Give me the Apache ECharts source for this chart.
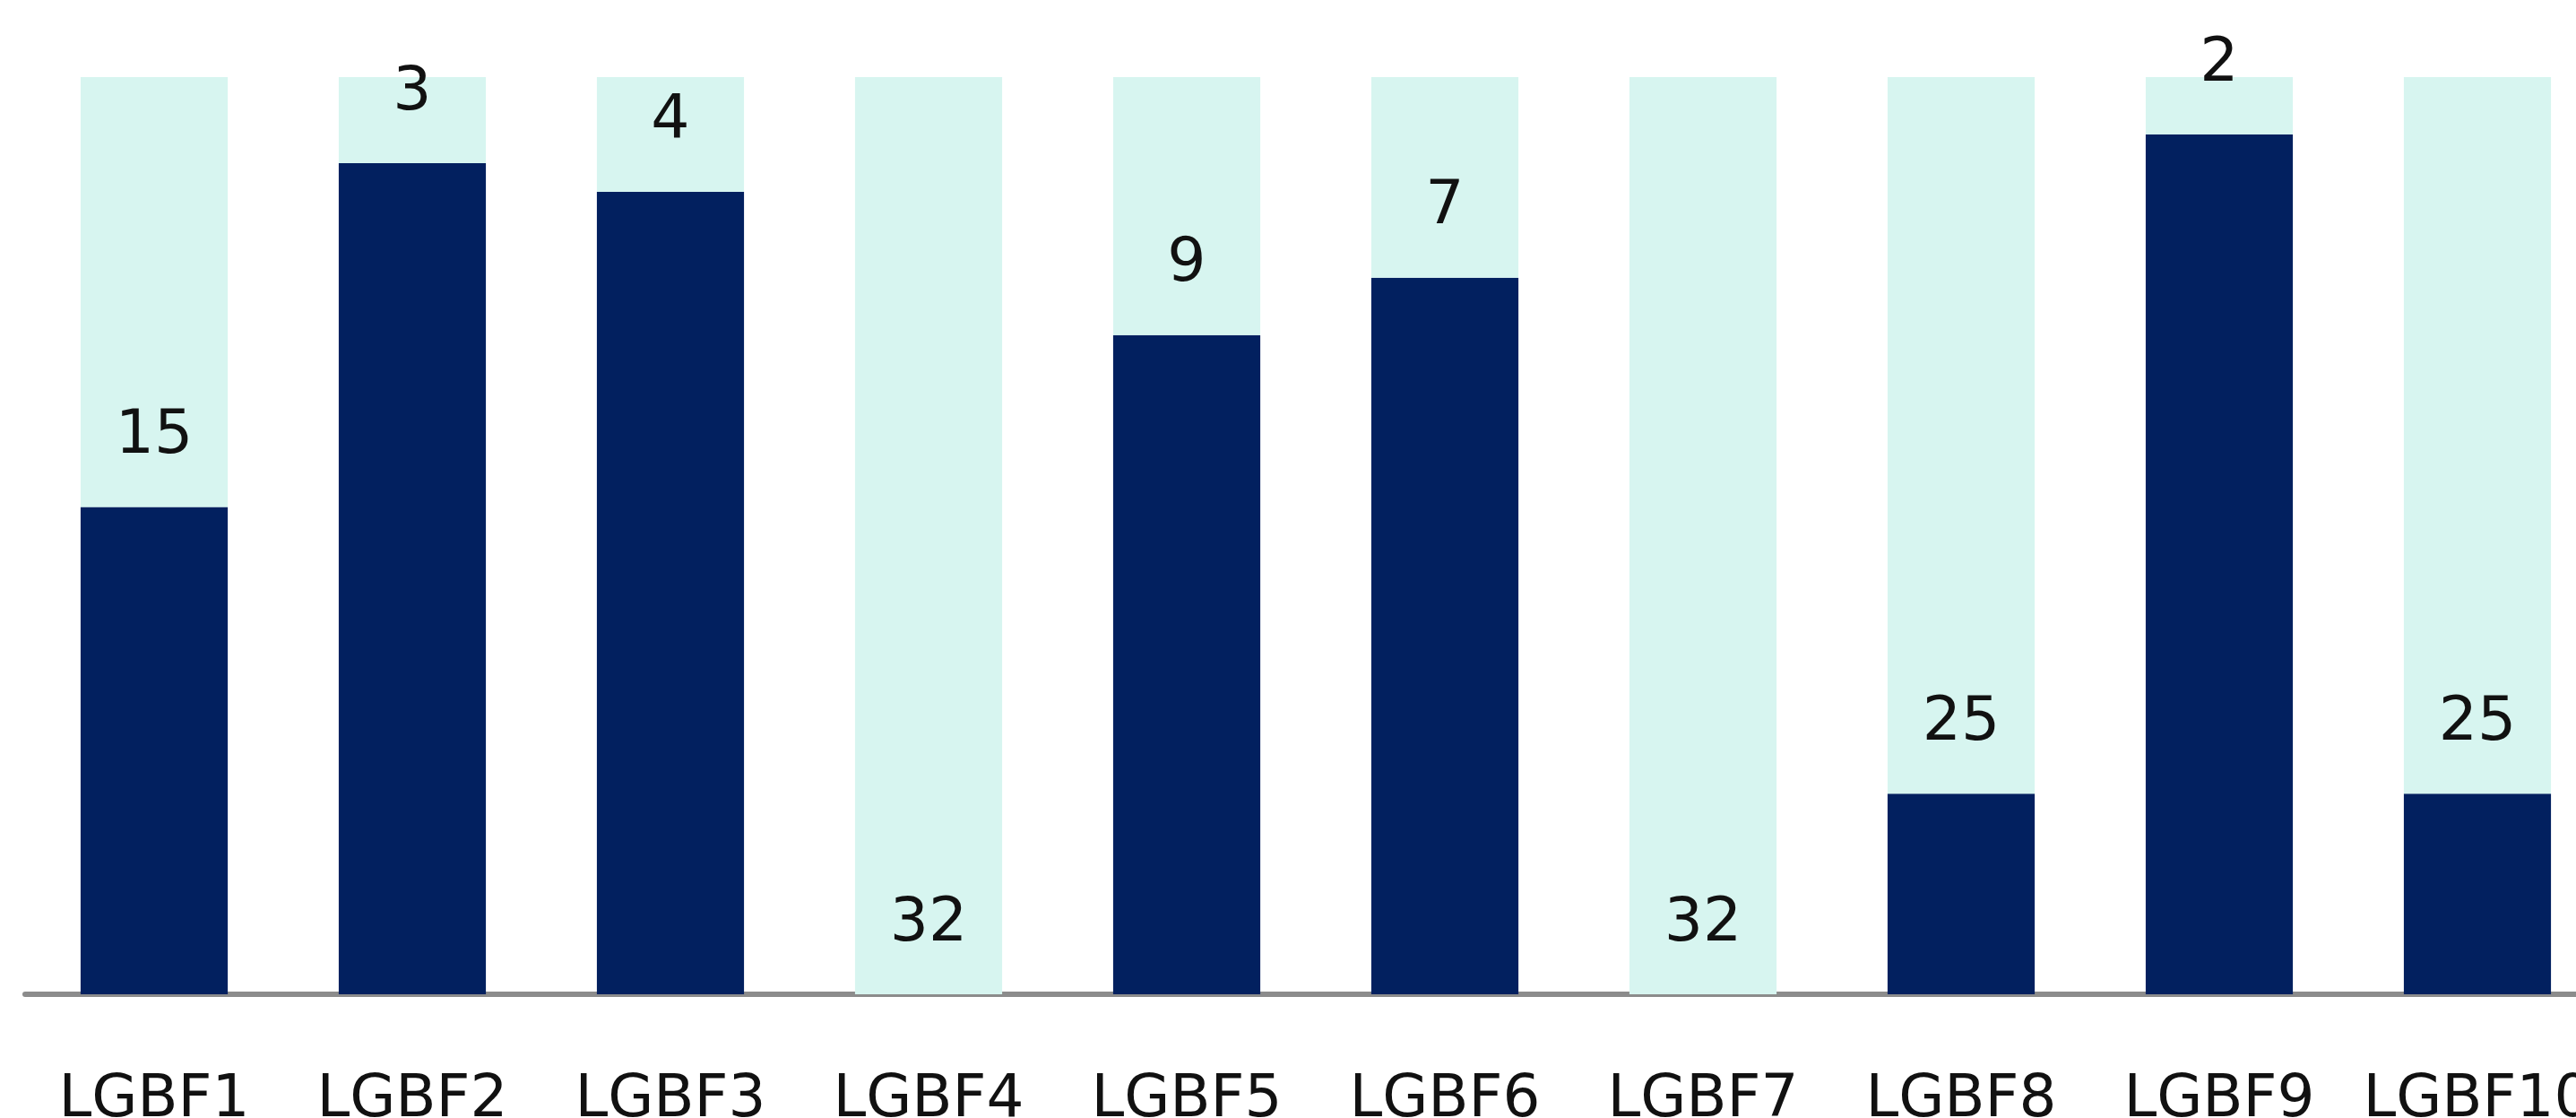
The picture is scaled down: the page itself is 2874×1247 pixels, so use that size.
<!DOCTYPE html>
<html>
<head>
<meta charset="utf-8">
<script src="https://cdn.jsdelivr.net/npm/echarts@6/dist/echarts.min.js"></script>
<style>
  html, body { margin: 0; padding: 0; background: #fff; }
  #main { width: 2874px; height: 1247px; }
</style>
</head>
<body>
<div id="main"></div>
<script>
// categories and values
var categories = ['LGBF1', 'LGBF2', 'LGBF3', 'LGBF4', 'LGBF5', 'LGBF6', 'LGBF7', 'LGBF8', 'LGBF9', 'LGBF10'];
var rankValues = [15, 3, 4, 32, 9, 7, 32, 25, 2, 25];   // light part, labelled
var darkValues = [17, 29, 28, 0, 23, 25, 0, 7, 30, 7];  // dark part
var maxValue = 32;

var chart = echarts.init(document.getElementById('main'), null, { renderer: 'canvas' });

var option = {
	animation: false,
	backgroundColor: '#ffffff',
	// plot runs past the right edge, like the cropped original
	grid: {
		left: 28,
		right: -34,
		top: 86,
		bottom: 138,
		containLabel: false,
		outerBoundsMode: 'none'
	},
	xAxis: {
		type: 'category',
		data: categories,
		axisLine: {
			show: true,
			lineStyle: { color: '#8c8c8c', width: 6 }
		},
		axisTick: { show: false },
		axisLabel: {
			margin: 86,
			color: '#111111',
			fontFamily: 'DejaVu Sans',
			fontSize: 66,
			interval: 0
		}
	},
	yAxis: {
		type: 'value',
		min: 0,
		max: maxValue,
		show: false,
		splitLine: { show: false }
	},
	series: [{
		name: 'dark',
		type: 'bar',
		stack: 'total',
		barWidth: '57%',
		itemStyle: { color: '#02205f' },
		data: darkValues
	}, {
		name: 'rank',
		type: 'bar',
		stack: 'total',
		barWidth: '57%',
		itemStyle: { color: '#d7f5f0' },
		label: {
			show: true,
			position: 'insideBottom',
			distance: 44,
			color: '#111111',
			fontFamily: 'DejaVu Sans',
			fontSize: 68
		},
		data: rankValues
	}]
};
chart.setOption(option);
</script>
</body>
</html>
